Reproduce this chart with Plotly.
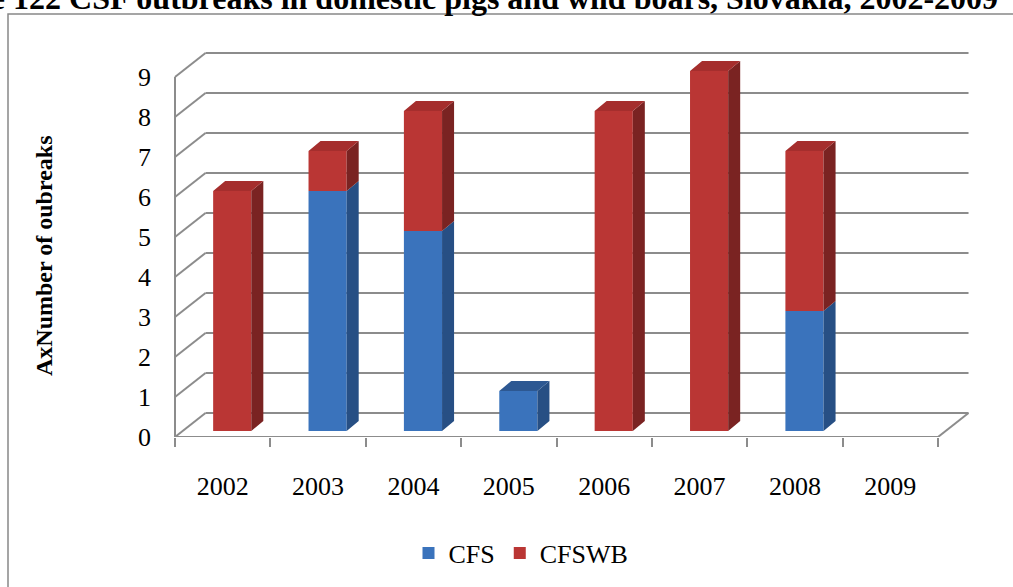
import plotly.graph_objects as go

years = ["2002", "2003", "2004", "2005", "2006", "2007", "2008", "2009"]
cfs = [0, 6, 5, 1, 0, 0, 3, 0]
cfswb = [6, 1, 3, 0, 8, 9, 4, 0]
y_ticks = list(range(10))

W, H = 1013, 587
FONT = "Liberation Serif"

# fake 3d geometry (data units)
depth_x, depth_y = 0.32, 0.6      # back wall offset
bar_dx, bar_dy = 0.126, 0.25      # bar side / top depth
bar_w = 0.40
bar_shift = 0.10
bar_base = 0.15

blue_front, blue_side, blue_top = "#3A73BC", "#274F84", "#2D5892"
red_front, red_side, red_top = "#BA3634", "#7A2322", "#A52E2D"

xc = [i + 0.5 + bar_shift for i in range(len(years))]

fig = go.Figure()

# bar front faces
fig.add_trace(go.Bar(x=xc, y=cfs, base=[bar_base] * len(cfs), width=bar_w,
                     marker=dict(color=blue_front, line=dict(width=0)),
                     name="CFS", hoverinfo="skip"))
fig.add_trace(go.Bar(x=xc, y=cfswb, base=[bar_base + v for v in cfs], width=bar_w,
                     marker=dict(color=red_front, line=dict(width=0)),
                     name="CFSWB", hoverinfo="skip"))


def faces(lo_vals, hi_vals, top):
    xs, ys = [], []
    for x, lo, hi in zip(xc, lo_vals, hi_vals):
        if hi <= lo:
            continue
        xr = x + bar_w / 2
        xl = x - bar_w / 2
        y0, y1 = bar_base + lo, bar_base + hi
        if top:
            xs += [xl, xl + bar_dx, xr + bar_dx, xr, xl, None]
            ys += [y1, y1 + bar_dy, y1 + bar_dy, y1, y1, None]
        else:
            xs += [xr, xr + bar_dx, xr + bar_dx, xr, xr, None]
            ys += [y0, y0 + bar_dy, y1 + bar_dy, y1, y0, None]
    return xs, ys


tot = [a + b for a, b in zip(cfs, cfswb)]
blue_top_vals = [v if r == 0 else 0 for v, r in zip(cfs, cfswb)]
for (lo, hi, top, col) in [
    ([0] * 8, cfs, False, blue_side),
    (cfs, tot, False, red_side),
    ([0] * 8, blue_top_vals, True, blue_top),
    (cfs, [t if r > 0 else 0 for t, r in zip(tot, cfswb)], True, red_top),
]:
    xs, ys = faces(lo, hi, top)
    if xs:
        fig.add_trace(go.Scatter(x=xs, y=ys, fill="toself", fillcolor=col, mode="lines",
                                 line=dict(width=0, color=col), showlegend=False,
                                 hoverinfo="skip"))

# walls / gridlines
grid = dict(color="#8C8C8C", width=2)
shapes = []
n = len(years)
for v in y_ticks:
    shapes.append(dict(type="line", xref="x", yref="y", x0=depth_x, x1=n + depth_x,
                       y0=v + depth_y, y1=v + depth_y, line=grid, layer="below"))
    shapes.append(dict(type="line", xref="x", yref="y", x0=0, x1=depth_x,
                       y0=v, y1=v + depth_y, line=grid, layer="below"))
shapes.append(dict(type="line", xref="x", yref="y", x0=0, x1=0, y0=0, y1=max(y_ticks),
                   line=grid, layer="below"))
shapes.append(dict(type="line", xref="x", yref="y", x0=0, x1=n, y0=0, y1=0,
                   line=grid, layer="below"))
shapes.append(dict(type="line", xref="x", yref="y", x0=n, x1=n + depth_x, y0=0, y1=depth_y,
                   line=grid, layer="below"))
# outer frame
shapes.append(dict(type="rect", xref="paper", yref="paper", x0=8 / W, x1=1.02,
                   y0=-0.05, y1=1 - 14 / H, line=dict(color="#888888", width=1.5)))

annotations = [
    dict(text="<b>AxNumber of oubreaks</b>", xref="paper", yref="paper", x=44 / W,
         y=1 - 256 / H, textangle=-90, showarrow=False, xanchor="center", yanchor="middle",
         font=dict(family=FONT, size=24, color="black")),
    dict(text="<b>Figure 122 CSF outbreaks in domestic pigs and wild boars, Slovakia, 2002-2009</b>",
         xref="paper", yref="paper", x=1000 / W, y=1 - 18 / H, xanchor="right", yanchor="bottom",
         showarrow=False, font=dict(family=FONT, size=32, color="black")),
]

x0px, x1px = 152, 990
xscale = 95.375
fig.update_layout(
    template="none",
    width=W, height=H,
    margin=dict(l=0, r=0, t=0, b=0, autoexpand=False),
    paper_bgcolor="white", plot_bgcolor="rgba(0,0,0,0)",
    barmode="overlay",
    shapes=shapes, annotations=annotations,
    font=dict(family=FONT, size=26, color="black"),
    xaxis=dict(domain=[x0px / W, x1px / W],
               range=[(x0px - 175) / xscale, (x1px - 175) / xscale],
               tickmode="array", tickvals=[i + 0.5 for i in range(n)], ticktext=years,
               ticks="", showgrid=False, zeroline=False, showline=False, automargin=False,
               ticklabelstandoff=31,
               minor=dict(tickmode="array", tickvals=list(range(n + 1)), ticks="outside",
                          ticklen=9, tickwidth=2, tickcolor="#8C8C8C", showgrid=False),
               tickfont=dict(family=FONT, size=26, color="black")),
    yaxis=dict(domain=[1 - 437 / H, 1 - 30 / H], range=[0, (437 - 30) / 40],
               tickmode="array", tickvals=y_ticks, ticks="", showgrid=False,
               zeroline=False, showline=False, automargin=False,
               tickfont=dict(family=FONT, size=26, color="black")),
    legend=dict(orientation="h", x=521 / W, y=1 - 553 / H, xanchor="center", yanchor="middle",
                font=dict(family=FONT, size=26, color="black"), itemclick=False,
                bgcolor="rgba(0,0,0,0)"),
)

fig.write_html("out.html", config={"displayModeBar": False},
               post_script="document.body.style.margin='0';")
